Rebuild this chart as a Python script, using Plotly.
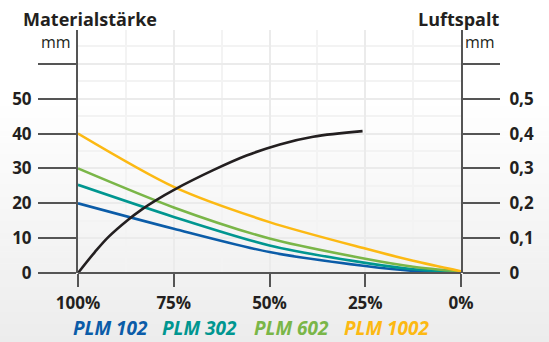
import plotly.graph_objects as go

# Material thickness curves (left axis, mm) over remaining share (%)
pct = [100, 75, 50, 25, 12.5, 0]
plm_102 = [20.0, 12.7, 6.0, 2.0, 0.6, 0.1]
plm_302 = [25.3, 16.1, 7.9, 2.9, 1.1, 0.3]
plm_602 = [30.0, 18.8, 9.9, 4.1, 1.8, 0.4]
plm_1002 = [40.0, 24.7, 14.6, 7.0, 3.5, 0.5]

# Air gap curve (right axis, mm)
gap_pct = [100, 95.6, 92.1, 86.9, 83.4, 79.9, 74.7, 64.7, 56.0, 47.3, 38.6, 25.7]
gap_mm = [0.0, 0.060, 0.103, 0.153, 0.182, 0.207, 0.240, 0.295, 0.337, 0.369, 0.391, 0.407]

x_ticks = [100, 75, 50, 25, 0]
x_labels = ["100%", "75%", "50%", "25%", "0%"]
y_ticks = [0, 10, 20, 30, 40, 50, 60]
y_labels = ["0", "10", "20", "30", "40", "50", ""]
y2_ticks = [0, 0.1, 0.2, 0.3, 0.4, 0.5, 0.6]
y2_labels = ["0", "0,1", "0,2", "0,3", "0,4", "0,5", ""]

series = [
    ("PLM 102", plm_102, "#0b5ca8"),
    ("PLM 302", plm_302, "#009690"),
    ("PLM 602", plm_602, "#7ab648"),
    ("PLM 1002", plm_1002, "#fcb913"),
]

W, H = 549, 342
L, R, T, B = 78, 88, 30, 69
PW, PH = W - L - R, H - T - B


def px(x):
    return (x - L) / PW


def py(y):
    return (H - B - y) / PH


def bold(labels):
    return [f"<b>{s}</b>" if s else "" for s in labels]


FONT = "Open Sans"
TXT = "#231f20"
AX = "#555555"

fig = go.Figure()

for name, vals, col in series:
    fig.add_trace(go.Scatter(x=pct, y=vals, name=name, mode="lines",
                             line=dict(color=col, width=2.6, shape="spline", smoothing=0.8),
                             showlegend=False))

fig.add_trace(go.Scatter(x=gap_pct, y=gap_mm, name="Luftspalt", mode="lines",
                         line=dict(color=TXT, width=2.6, shape="spline", smoothing=1.0),
                         yaxis="y2", showlegend=False))

# soft vertical background gradient
shapes = []
n = 40
y_start = 100
for i in range(n):
    y0 = y_start + (H - y_start) * i / n
    y1 = y_start + (H - y_start) * (i + 1) / n + 0.5
    t = (i + 0.5) / n
    v = round(255 - 19 * t)
    shapes.append(dict(type="rect", xref="paper", yref="paper",
                       x0=px(0), x1=px(W), y0=py(y1), y1=py(y0),
                       fillcolor=f"rgb({v},{v},{v})", line=dict(width=0), layer="below"))

# x axis baseline
shapes.append(dict(type="line", xref="paper", yref="paper", x0=0, x1=1, y0=0, y1=0,
                   line=dict(color=AX, width=2)))

annotations = [
    dict(text="<b>Materialstärke</b>", x=px(90), y=py(19), font=dict(size=18, color=TXT, family=FONT)),
    dict(text="mm", x=px(73), y=py(42), xanchor="right", font=dict(size=16, color=TXT, family=FONT)),
    dict(text="<b>Luftspalt</b>", x=px(458), y=py(19), font=dict(size=18, color=TXT, family=FONT)),
    dict(text="mm", x=px(463), y=py(42), xanchor="left", font=dict(size=16, color=TXT, family=FONT)),
]
legend_x = [110, 199, 291, 386]
for (name, _, col), lx in zip(series, legend_x):
    annotations.append(dict(text=f"<b><i>{name}</i></b>", x=px(lx), y=py(328),
                            font=dict(size=19, color=col, family=FONT)))
for a in annotations:
    a.update(xref="paper", yref="paper", showarrow=False, yanchor="middle")
    a.setdefault("xanchor", "center")

tick_font = dict(size=17, color=TXT, family=FONT)

fig.update_layout(
    width=W, height=H,
    margin=dict(l=L, r=R, t=T, b=B, pad=0),
    paper_bgcolor="white", plot_bgcolor="rgba(0,0,0,0)",
    shapes=shapes, annotations=annotations,
    xaxis=dict(range=[100, 0], tickvals=x_ticks, ticktext=bold(x_labels),
               ticks="outside", ticklen=13, tickwidth=2, tickcolor=AX,
               showline=False, zeroline=False,
               showgrid=True, gridcolor="#ebebeb", gridwidth=1.5,
               minor=dict(dtick=12.5, tick0=0, showgrid=True, gridcolor="#f3f3f3"),
               tickfont=tick_font, ticklabelstandoff=2, fixedrange=True),
    yaxis=dict(range=[0, PH / 3.485], tickvals=y_ticks, ticktext=bold(y_labels),
               ticks="outside", ticklen=38, tickwidth=2, tickcolor=AX,
               showline=True, linecolor=AX, linewidth=2,
               zeroline=False, showgrid=True, gridcolor="#ebebeb", gridwidth=1.5,
               minor=dict(dtick=5, tick0=0, showgrid=True, gridcolor="#f3f3f3"),
               tickfont=tick_font, ticklabelstandoff=3),
    yaxis2=dict(range=[0, PH / 348.5], tickvals=y2_ticks, ticktext=bold(y2_labels),
                overlaying="y", side="right",
                ticks="outside", ticklen=37, tickwidth=2, tickcolor=AX,
                showline=True, linecolor=AX, linewidth=2,
                zeroline=False, showgrid=False,
                tickfont=tick_font, ticklabelstandoff=6),
)

fig.write_html("out.html")
